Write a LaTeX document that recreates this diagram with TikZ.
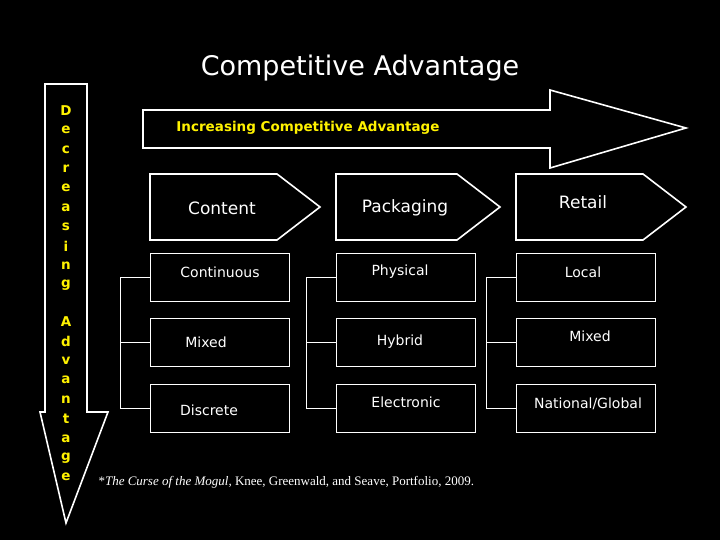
\documentclass[tikz,border=0pt]{standalone}
\usepackage{fontspec}
\setmainfont{DejaVu Sans}
\newfontfamily\citefont{Liberation Serif}
\begin{document}
\begin{tikzpicture}[x=1pt,y=-1pt,
 shp/.style={draw=white,line width=1.6pt},
 box/.style={draw=white,line width=1pt},
 ln/.style={draw=white,line width=1pt},
 lab/.style={text=white,font=\fontsize{14}{16}\selectfont},
 big/.style={text=white,font=\fontsize{17}{19}\selectfont},
 yl/.style={text=yellow,font=\bfseries\fontsize{13.5}{15}\selectfont}]
\fill[black] (0,0) rectangle (720,540);
\useasboundingbox (0,0) rectangle (720,540);
\node[text=white,font=\fontsize{27}{30}\selectfont] (title) at (360,68) {Competitive Advantage};
% left arrow
\draw[shp] (45,84) -- (87,84) -- (87,412) -- (108,412) -- (66,523) -- (40,412) -- (45,412) -- cycle;
\foreach \c [count=\i from 0] in {D,e,c,r,e,a,s,i,n,g}
  \node[yl] (d\i) at (66,{111+\i*19.3}) {\c};
\foreach \c [count=\i from 0] in {A,d,v,a,n,t,a,g,e}
  \node[yl] (a\i) at (66,{322+\i*19.4}) {\c};
% top arrow
\draw[shp] (143,110) -- (550,110) -- (550,90) -- (686,128) -- (550,168) -- (550,148) -- (143,148) -- cycle;
\node[yl] (inc) at (308,128) {Increasing Competitive Advantage};
% pentagons
\draw[shp] (150,174) -- (277,174) -- (320,207) -- (277,240) -- (150,240) -- cycle;
\draw[shp] (336,174) -- (457,174) -- (500,207) -- (457,240) -- (336,240) -- cycle;
\draw[shp] (516,174) -- (643,174) -- (686,207) -- (643,240) -- (516,240) -- cycle;
\node[big] (content) at (222,208) {Content};
\node[big] (pack) at (405,208) {Packaging};
\node[big] (retail) at (583,202) {Retail};
% boxes
\foreach \col/\x in {1/150,2/336,3/516}{
  \node[box,minimum width=139pt,minimum height=48pt,anchor=north west,inner sep=0] (b\col1) at (\x,253) {};
  \node[box,minimum width=139pt,minimum height=48pt,anchor=north west,inner sep=0] (b\col2) at (\x,318) {};
  \node[box,minimum width=139pt,minimum height=48pt,anchor=north west,inner sep=0] (b\col3) at (\x,384) {};
}
\foreach \col/\x in {1/120,2/306,3/486}{
  \coordinate (t\col) at (\x,277);
  \coordinate (m\col) at (\x,342);
  \coordinate (e\col) at (\x,408);
  \draw[ln] (b\col1.west |- t\col) -- (t\col) -- (e\col) -- (b\col3.west |- e\col);
  \draw[ln] (m\col) -- (b\col2.west |- m\col);
}
\node[lab] (l11) at (220,272) {Continuous};
\node[lab] (l21) at (400,272) {Physical};
\node[lab] (l31) at (583,272) {Local};
\node[lab] (l12) at (206,342) {Mixed};
\node[lab] (l22) at (400,342) {Hybrid};
\node[lab] (l32) at (590,336) {Mixed};
\node[lab] (l13) at (209,410) {Discrete};
\node[lab] (l23) at (406,402) {Electronic};
\node[lab] (l33) at (588,404) {National/Global};
\node[text=white,anchor=west,font=\citefont\fontsize{13}{15}\selectfont] (cite) at (95,482) {*\textit{The Curse of the Mogul,} Knee, Greenwald, and Seave, Portfolio, 2009.};
\end{tikzpicture}
\end{document}
